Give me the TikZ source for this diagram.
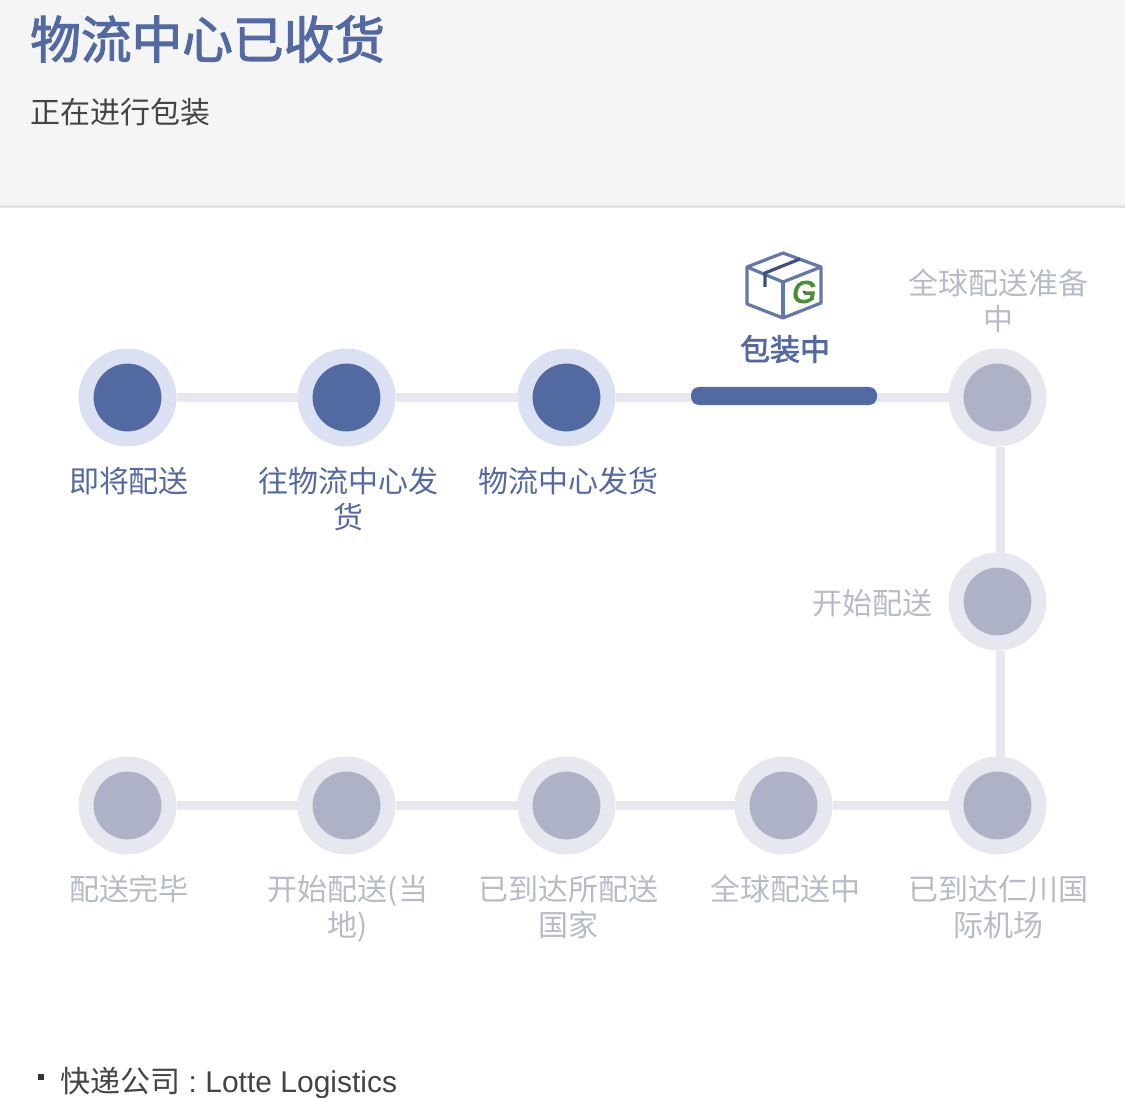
\documentclass[tikz,border=0pt]{standalone}
\usepackage{fontspec}
\setmainfont{Liberation Sans}
\newfontfamily\cjk{Noto Sans CJK SC}
\newfontfamily\cjkmed[FakeBold=2.2]{Noto Sans CJK SC}
\newfontfamily\logofont[FakeBold=4,FakeSlant=0.15]{Liberation Sans}
\usetikzlibrary{positioning,calc}
\definecolor{trackblue}{HTML}{5369A1}
\definecolor{ringblue}{HTML}{DBE1F2}
\definecolor{waitgray}{HTML}{ADB2C7}
\definecolor{ringgray}{HTML}{E6E7EF}
\definecolor{waittext}{HTML}{B7BAC9}
\definecolor{headgray}{HTML}{F5F5F5}
\definecolor{headline}{HTML}{E3E3E3}
\definecolor{darktext}{HTML}{444444}
\definecolor{logogreen}{HTML}{4A8F35}
\tikzset{
  done/.style={circle, draw=ringblue, fill=trackblue, line width=11.25pt, minimum size=62.25pt, inner sep=0pt},
  wait/.style={circle, draw=ringgray, fill=waitgray, line width=11.25pt, minimum size=62.25pt, inner sep=0pt},
  doneline/.style={font=\cjk\fontsize{22.5pt}{27pt}\selectfont, text=trackblue, align=center, inner sep=0pt},
  waitline/.style={font=\cjk\fontsize{22.5pt}{27pt}\selectfont, text=waittext, align=center, inner sep=0pt},
  track/.style={draw=ringgray, line width=7pt},
  boxedge/.style={draw=trackblue!90, line width=2.4pt, line join=round}
}
\begin{document}
\begin{tikzpicture}[x=0.75pt,y=-0.75pt]
\useasboundingbox (0,0) rectangle (1125,1098);

% Header
\fill[headgray] (0,0) rectangle (1125,205);
\fill[headline] (0,205) rectangle (1125,208);
\node[font=\cjkmed\fontsize{38pt}{40pt}\selectfont, text=trackblue, anchor=west, inner sep=0pt] (title) at (30,39) {物流中心已收货};
\node[font=\cjk\fontsize{22.5pt}{27pt}\selectfont, text=darktext, anchor=west, inner sep=0pt] (subtitle) at (30,112) {正在进行包装};

% Top row
\foreach \x/\name in {127.5/a, 346.5/b, 566.5/c} {
    \node[done] (\name) at (\x,397.5) {};
}
\node[fill=trackblue, rounded corners=6pt, minimum width=139.5pt, minimum height=13.5pt, inner sep=0pt] (packing) at (784,396) {};
\node[wait] (d) at (997.5,397.5) {};

% Right side and bottom row
\node[wait] (e) at (997.5,601.5) {};
\foreach \x/\name in {997.5/f, 783.5/g, 566.5/h, 346.5/i, 127.5/j} {
    \node[wait] (\name) at (\x,805.5) {};
}

% Connectors
\draw[track] (a) -- (b);
\draw[track] (b) -- (c);
\draw[track] (c.east) -- (c.east -| packing.west);
\draw[track] (packing.east |- d.west) -- (d.west);
\draw[track] ([xshift=2.25pt]d.south) -- ([xshift=2.25pt]e.north);
\draw[track] ([xshift=2.25pt]e.south) -- ([xshift=2.25pt]f.north);
\draw[track] (f) -- (g);
\draw[track] (g) -- (h);
\draw[track] (h) -- (i);
\draw[track] (i) -- (j);

% Labels
\node[doneline] (alabel) at (129,481) {即将配送};
\node[doneline, anchor=north] (blabel) at (348,467) {往物流中心发\\货};
\node[doneline] (clabel) at (568,481) {物流中心发货};
\node[font=\cjkmed\fontsize{22.5pt}{27pt}\selectfont, text=trackblue, inner sep=0pt] (packinglabel) at (785,349) {包装中};
\node[waitline, anchor=north] (dlabel) at (998,269) {全球配送准备\\中};
\node[waitline, anchor=east] (elabel) at (933,603) {开始配送};
\node[waitline] (jlabel) at (129,889) {配送完毕};
\node[waitline, anchor=north] (ilabel) at (348,875) {开始配送(当\\地)};
\node[waitline, anchor=north] (hlabel) at (568,875) {已到达所配送\\国家};
\node[waitline] (glabel) at (785,889) {全球配送中};
\node[waitline, anchor=north] (flabel) at (998,875) {已到达仁川国\\际机场};

% Box icon
\draw[boxedge] (783,253) -- (821,267) -- (821,303) -- (783,318) -- (747,304) -- (747,267) -- cycle;
\draw[boxedge] (747,267) -- (783,282) -- (821,267);
\draw[boxedge] (783,282) -- (783,318);
\draw[draw=trackblue!75!black, line width=2.4pt] (800,259) -- (765,273) -- (765,287);
\node[font=\logofont\fontsize{23pt}{23pt}\selectfont, text=logogreen, inner sep=0pt] (logo) at (803,292) {G};
\fill[trackblue!60!black] (804,292) circle (1.5);

% Footer
\fill[black!80] (38,1074) rectangle (44,1080);
\node[font=\fontsize{22.5pt}{27pt}\selectfont, text=darktext, anchor=west, inner sep=0pt] (carrier) at (60,1083) {{\cjk 快递公司} :\hspace{-2pt} Lotte Logistics};
\end{tikzpicture}
\end{document}
